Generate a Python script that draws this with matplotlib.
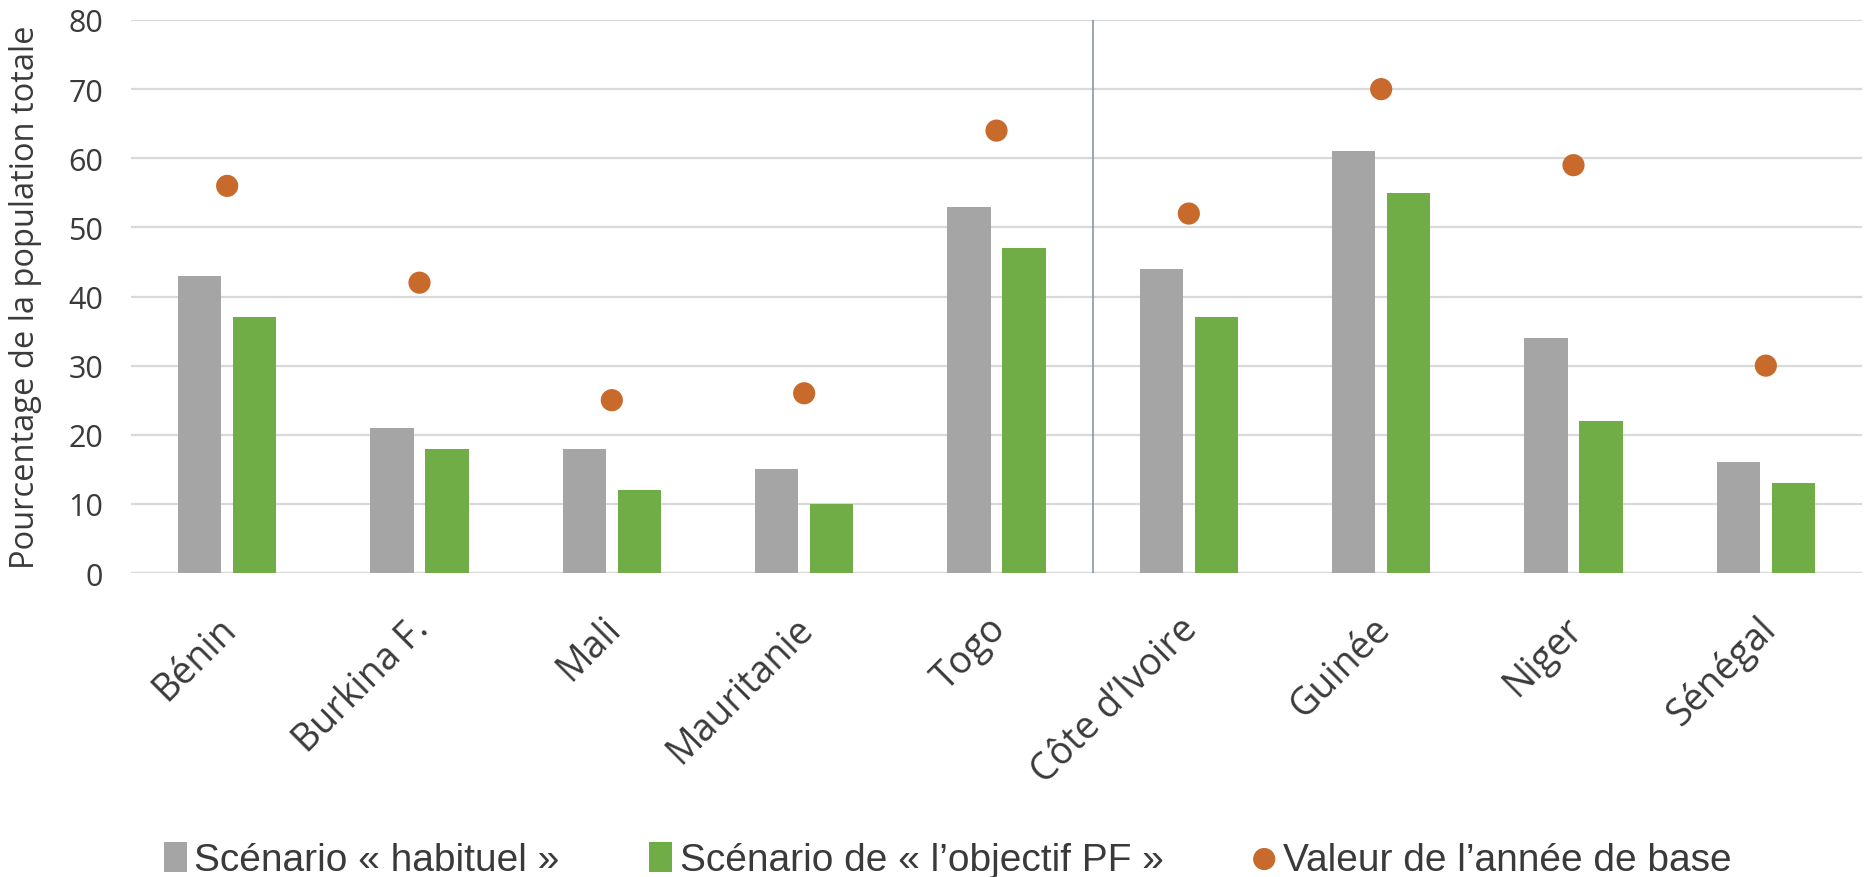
import matplotlib
matplotlib.use("Agg")
import matplotlib.pyplot as plt
import matplotlib.transforms as mtransforms
import numpy as np

categories = ["Bénin", "Burkina F.", "Mali", "Mauritanie", "Togo",
              "Côte d’Ivoire", "Guinée", "Niger", "Sénégal"]
habituel = [43, 21, 18, 15, 53, 44, 61, 34, 16]
objectif = [37, 18, 12, 10, 47, 37, 55, 22, 13]
base = [56, 42, 25, 26, 64, 52, 70, 59, 30]
yticks = [0, 10, 20, 30, 40, 50, 60, 70, 80]
legend_labels = ["Scénario « habituel »", "Scénario de « l’objectif PF »",
                 "Valeur de l’année de base"]

tick_font = ["Open Sans", "DejaVu Sans"]
leg_font = ["Liberation Sans", "DejaVu Sans"]

GRAY = "#A5A5A5"
GREEN = "#70AD47"
ORANGE = "#C86A2C"
TXT = "#3A3A3A"

fig = plt.figure(figsize=(18.64, 8.78), dpi=100)
ax = fig.add_axes([131 / 1864, 1 - 574 / 878, 1731 / 1864, 553 / 878])

x = np.arange(len(categories))
w = 0.226
off = 0.143
h1 = ax.bar(x - off, habituel, width=w, color=GRAY, zorder=3, label=legend_labels[0])
h2 = ax.bar(x + off, objectif, width=w, color=GREEN, zorder=3, label=legend_labels[1])
h3 = ax.scatter(x, base, s=255, color=ORANGE, zorder=4, label=legend_labels[2],
                edgecolors="none")

ax.set_xlim(-0.5, len(categories) - 0.5)
ax.set_ylim(0, 80)
ax.set_yticks(yticks)
ax.yaxis.grid(True, color="#D9D9D9", linewidth=1.6, zorder=0)
ax.set_axisbelow(True)
for s in ax.spines.values():
    s.set_visible(False)
ax.axhline(0, color="#D9D9D9", linewidth=1.6, zorder=1)
ax.plot([4.5, 4.5], [0, 80], color="#8C96A0", linewidth=1.2, zorder=2)

ax.tick_params(axis="both", length=0)
ax.tick_params(axis="y", pad=20)
ax.set_yticklabels([str(v) for v in yticks], fontsize=22, color=TXT, family=tick_font)
ax.set_xticks(x)
ax.set_xticklabels(categories, rotation=45, ha="right", rotation_mode="anchor",
                   fontsize=27, color=TXT, family=tick_font)
ax.tick_params(axis="x", pad=26)
shift = mtransforms.ScaledTranslation(-10 / 100, 0, fig.dpi_scale_trans)
for lbl in ax.get_xticklabels():
    lbl.set_transform(lbl.get_transform() + shift)

ax.set_ylabel("Pourcentage de la population totale", fontsize=23.5, color=TXT,
              family=tick_font)
ax.yaxis.set_label_coords((42 - 131) / 1731, 0.5)

leg = fig.legend(handles=[h1, h2, h3], labels=legend_labels, loc="center",
                 bbox_to_anchor=(948 / 1864, 1 - 861 / 878), ncol=3, frameon=False,
                 prop={"family": leg_font, "size": 28}, handlelength=0.58,
                 handleheight=0.8, columnspacing=2.3, handletextpad=0.2,
                 scatterpoints=1, borderpad=0, borderaxespad=0)
for t in leg.get_texts():
    t.set_color(TXT)

fig.savefig("out.png", dpi=100)
